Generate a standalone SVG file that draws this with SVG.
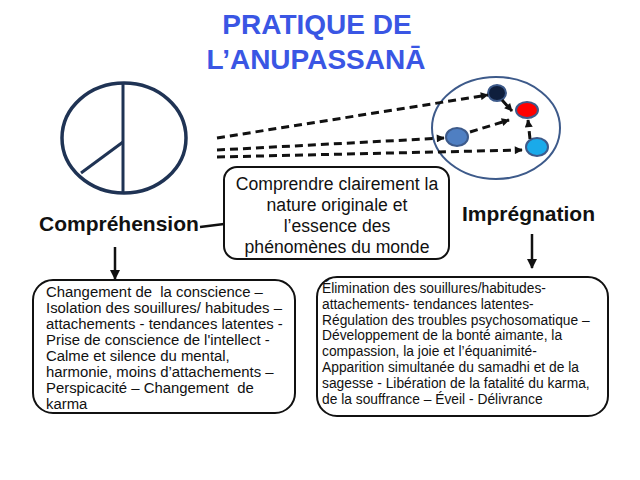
<svg xmlns="http://www.w3.org/2000/svg" width="640" height="480" viewBox="0 0 640 480">
<defs>
<style>
.title{font-family:"Liberation Sans",Arial,sans-serif;font-weight:bold;font-size:28px;fill:#3A56E4;text-anchor:middle}
.lbl{font-family:"Liberation Sans",Arial,sans-serif;font-weight:bold;font-size:21px;fill:#111}
.mid{font-family:"Liberation Sans",Arial,sans-serif;font-size:17.6px;fill:#111;text-anchor:middle}
.bl{font-family:"Liberation Sans",Arial,sans-serif;font-size:14.9px;fill:#111;white-space:pre}
.br{font-family:"Liberation Sans",Arial,sans-serif;font-size:13.8px;fill:#111}
.box{fill:#fff;stroke:#111;stroke-width:2}
.dash{fill:none;stroke:#111;stroke-width:3;stroke-dasharray:8 5}
.solid{fill:none;stroke:#111;stroke-width:2.5}
.dot{stroke:#3D5A8A;stroke-width:2}
</style>
<marker id="ah" viewBox="0 0 10 10" refX="9" refY="5" markerUnits="userSpaceOnUse" markerWidth="9" markerHeight="8" orient="auto">
<path d="M0,0 L10,5 L0,10 Z" fill="#111"/>
</marker>
<marker id="ahd" viewBox="0 0 10 10" refX="9" refY="5" markerUnits="userSpaceOnUse" markerWidth="11" markerHeight="10" orient="auto">
<path d="M0,0 L10,5 L0,10 Z" fill="#111"/>
</marker>
</defs>
<rect width="640" height="480" fill="#fff"/>
<g id="title">
<text class="title" x="317" y="34">PRATIQUE DE</text>
<text class="title" x="316" y="69">L’ANUPASSANĀ</text>
</g>
<g id="wheel">
<ellipse cx="124" cy="138" rx="62" ry="55" fill="none" stroke="#1F3354" stroke-width="3.5"/>
<line x1="123" y1="83" x2="123" y2="193" stroke="#1F3354" stroke-width="3"/>
<line x1="123" y1="142" x2="81" y2="173" stroke="#1F3354" stroke-width="3"/>
</g>
<g id="cluster">
<ellipse cx="496" cy="128" rx="64" ry="51" fill="none" stroke="#3D5A8A" stroke-width="2"/>
<ellipse class="dot" cx="497" cy="93" rx="9" ry="8" fill="#0F1F3D"/>
<ellipse class="dot" cx="527" cy="110" rx="11" ry="8" fill="#FF0000"/>
<ellipse class="dot" cx="457" cy="137" rx="11" ry="9" fill="#4F7FC2"/>
<ellipse class="dot" cx="537" cy="147" rx="11" ry="9" fill="#1AAAEA"/>
</g>
<g id="connectors">
<path class="dash" d="M217,138 L488,95" marker-end="url(#ah)"/>
<path class="dash" d="M217,150 L444,138" marker-end="url(#ah)"/>
<path class="dash" d="M217,157 L522,150" marker-end="url(#ah)"/>
<path class="dash" d="M470,132 L509,120" marker-end="url(#ah)"/>
<path class="dash" d="M502,100 L512,111" marker-end="url(#ah)" stroke-dasharray="none"/>
<path class="dash" d="M530,139 L528,120" marker-end="url(#ah)" stroke-dasharray="none"/>
<path class="solid" d="M200,227 L224,224"/>
<path class="solid" d="M115,247 L115,279" marker-end="url(#ahd)"/>
<path class="solid" d="M532,234 L532,268" marker-end="url(#ahd)"/>
</g>
<g id="center">
<rect class="box" x="224" y="167" width="225" height="92" rx="13"/>
<text class="mid" x="337" y="190">Comprendre clairement la</text>
<text class="mid" x="337" y="211">nature originale et</text>
<text class="mid" x="337" y="232">l’essence des</text>
<text class="mid" x="337" y="253">phénomènes du monde</text>
</g>
<g id="comprehension">
<text class="lbl" x="39" y="231">Compréhension</text>
</g>
<g id="impregnation">
<text class="lbl" x="462" y="221">Imprégnation</text>
</g>
<g id="leftbox">
<rect class="box" x="33" y="280" width="262" height="133" rx="20"/>
<text class="bl" x="46" y="297">Changement de  la conscience –</text>
<text class="bl" x="46" y="313">Isolation des souillures/ habitudes –</text>
<text class="bl" x="46" y="329">attachements - tendances latentes -</text>
<text class="bl" x="46" y="345">Prise de conscience de l'intellect -</text>
<text class="bl" x="46" y="361">Calme et silence du mental,</text>
<text class="bl" x="46" y="377">harmonie, moins d’attachements –</text>
<text class="bl" x="46" y="393">Perspicacité – Changement  de</text>
<text class="bl" x="46" y="409">karma</text>
</g>
<g id="rightbox">
<rect class="box" x="317" y="277" width="291" height="139" rx="20"/>
<text class="br" x="322" y="293">Élimination des souillures/habitudes-</text>
<text class="br" x="322" y="308.8">attachements- tendances latentes-</text>
<text class="br" x="322" y="324.6">Régulation des troubles psychosomatique –</text>
<text class="br" x="322" y="340.4">Développement de la bonté aimante, la</text>
<text class="br" x="322" y="356.2">compassion, la joie et l’équanimité-</text>
<text class="br" x="322" y="372">Apparition simultanée du samadhi et de la</text>
<text class="br" x="322" y="387.8">sagesse - Libération de la fatalité du karma,</text>
<text class="br" x="322" y="403.6">de la souffrance – Éveil - Délivrance</text>
</g>
</svg>
